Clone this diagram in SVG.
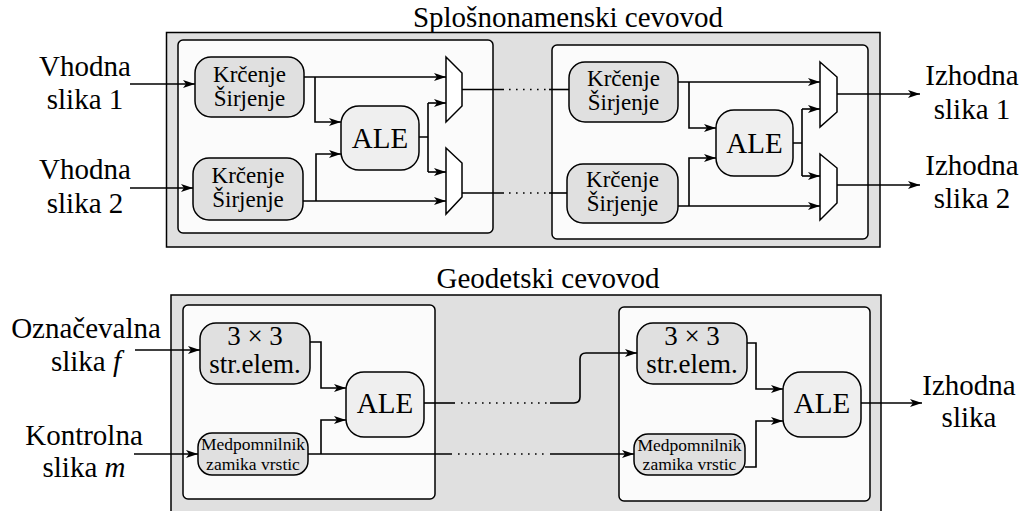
<svg xmlns="http://www.w3.org/2000/svg" width="1024" height="511" viewBox="0 0 1024 511" font-family="'Liberation Serif', serif">
<defs>
<marker id="arr" markerUnits="userSpaceOnUse" viewBox="0 0 12 8" refX="12" refY="4" markerWidth="12" markerHeight="8" orient="auto">
<path d="M0,0 L12,4 L0,8 L3,4 Z" fill="#000"/>
</marker>
</defs>
<style>
text{font-family:'Liberation Serif',serif;fill:#000;text-anchor:middle}
.lbl{font-size:29px}
.ttl{font-size:29px}
.kr{font-size:23px}
.ale{font-size:29px}
.str{font-size:27px}
.med{font-size:17.5px}
.outer{fill:#e0e0e0;stroke:#000;stroke-width:1.5}
.inner{fill:#fbfbfb;stroke:#000;stroke-width:1.5}
.blk{fill:#e0e0e0;stroke:#000;stroke-width:1.5}
.alebox{fill:#efefef;stroke:#000;stroke-width:1.5}
.mux{fill:#fff;stroke:#000;stroke-width:1.5}
.c{fill:none;stroke:#000;stroke-width:1.6}
.a{fill:none;stroke:#000;stroke-width:1.6;marker-end:url(#arr)}
.d{fill:none;stroke:#000;stroke-width:1.6;stroke-dasharray:1.6 5.4}
</style>

<g id="frames">
<rect class="outer" x="166.5" y="32.5" width="713.5" height="214.5"/>
<rect class="inner" x="178" y="40" width="315" height="193" rx="5"/>
<rect class="inner" x="552" y="45" width="316" height="194" rx="5"/>
<rect class="outer" x="171" y="295" width="710" height="222"/>
<rect class="inner" x="183" y="305" width="252" height="194" rx="5"/>
<rect class="inner" x="619" y="307" width="251" height="194" rx="5"/>
</g>

<g id="titles">
<text class="ttl" x="568" y="27">Splošnonamenski cevovod</text>
<text class="ttl" x="548" y="288">Geodetski cevovod</text>
</g>

<g id="connectors">
<path class="a" d="M130 84 H195"/>
<path class="a" d="M130 188 H193"/>
<path class="a" d="M304 77 H446"/>
<path class="a" d="M315 77 V122 H341"/>
<path class="a" d="M303 201 H446"/>
<path class="a" d="M316 201 V154 H341"/>
<path class="c" d="M419 137 H428 M428 103 V172"/>
<path class="a" d="M428 103 H446"/>
<path class="a" d="M428 172 H446"/>
<path class="c" d="M462 89.5 H504"/>
<path class="d" d="M509 89.5 H546"/>
<path class="c" d="M549 89.5 H569"/>
<path class="c" d="M462 193 H504"/>
<path class="d" d="M509 193 H546"/>
<path class="c" d="M549 193 H567"/>
<path class="a" d="M678 82 H820"/>
<path class="a" d="M689 82 V128 H716"/>
<path class="a" d="M678 206 H820"/>
<path class="a" d="M689 206 V158 H716"/>
<path class="c" d="M793 143 H802 M802 109 V176"/>
<path class="a" d="M802 109 H820"/>
<path class="a" d="M802 176 H820"/>
<path class="a" d="M837 94 H920"/>
<path class="a" d="M837 185 H920"/>

<path class="a" d="M135 350 H200"/>
<path class="a" d="M134 454 H198"/>
<path class="a" d="M310 342 H321 V388 H346"/>
<path class="c" d="M308 454 H452"/>
<path class="a" d="M321 454 V420 H346"/>
<path class="d" d="M458 454 H548"/>
<path class="a" d="M550 454 H634"/>
<path class="c" d="M424 403 H455"/>
<path class="d" d="M461 403 H548"/>
<path class="a" d="M550 403 H574 Q580 403 580 397 V359 Q580 353 586 353 H637"/>
<path class="a" d="M747 343 H756 V389 H783"/>
<path class="a" d="M745 467 H756 V421 H783"/>
<path class="a" d="M861 403 H922"/>
</g>

<g id="in1"><text class="lbl" x="85" y="76">Vhodna</text><text class="lbl" x="85" y="109">slika 1</text></g>
<g id="in2"><text class="lbl" x="85" y="179">Vhodna</text><text class="lbl" x="85" y="213">slika 2</text></g>
<g id="out1"><text class="lbl" x="972" y="85">Izhodna</text><text class="lbl" x="972" y="119">slika 1</text></g>
<g id="out2"><text class="lbl" x="972" y="175">Izhodna</text><text class="lbl" x="972" y="208">slika 2</text></g>

<g id="k1a"><rect class="blk" x="195" y="57" width="109" height="60" rx="16"/><text class="kr" x="249.5" y="82">Krčenje</text><text class="kr" x="249.5" y="106">Širjenje</text></g>
<g id="k1b"><rect class="blk" x="193" y="158" width="110" height="62" rx="16"/><text class="kr" x="248" y="183">Krčenje</text><text class="kr" x="248" y="207">Širjenje</text></g>
<g id="ale1"><rect class="alebox" x="341" y="106" width="78" height="64" rx="18"/><text class="ale" x="380" y="148">ALE</text></g>
<g id="mux1a"><polygon class="mux" points="446,57 462,73 462,106 446,122"/></g>
<g id="mux1b"><polygon class="mux" points="446,148 462,163 462,197 446,214"/></g>

<g id="k2a"><rect class="blk" x="569" y="62" width="109" height="60" rx="16"/><text class="kr" x="623.5" y="86">Krčenje</text><text class="kr" x="623.5" y="110">Širjenje</text></g>
<g id="k2b"><rect class="blk" x="567" y="164" width="111" height="59" rx="16"/><text class="kr" x="622.5" y="187">Krčenje</text><text class="kr" x="622.5" y="211">Širjenje</text></g>
<g id="ale2"><rect class="alebox" x="716" y="110" width="77" height="66" rx="18"/><text class="ale" x="754.5" y="153">ALE</text></g>
<g id="mux2a"><polygon class="mux" points="820,62 837,77 837,112 820,127"/></g>
<g id="mux2b"><polygon class="mux" points="820,154 837,168 837,203 820,220"/></g>

<g id="inf"><text class="lbl" x="86" y="338">Označevalna</text><text class="lbl" x="86" y="371">slika <tspan font-style="italic">f</tspan></text></g>
<g id="inm"><text class="lbl" x="84" y="445">Kontrolna</text><text class="lbl" x="84" y="477">slika <tspan font-style="italic">m</tspan></text></g>
<g id="out3"><text class="lbl" x="969" y="395">Izhodna</text><text class="lbl" x="969" y="427">slika</text></g>

<g id="se1"><rect class="blk" x="200" y="323" width="110" height="61" rx="16"/><text class="str" x="255" y="345">3 × 3</text><text class="str" x="255" y="373">str.elem.</text></g>
<g id="mp1"><rect class="blk" x="198" y="433" width="110" height="42" rx="14"/><text class="med" x="253" y="450">Medpomnilnik</text><text class="med" x="253" y="470">zamika vrstic</text></g>
<g id="ale3"><rect class="alebox" x="346" y="372" width="78" height="65" rx="18"/><text class="ale" x="385" y="413">ALE</text></g>

<g id="se2"><rect class="blk" x="637" y="323" width="110" height="61" rx="16"/><text class="str" x="692" y="345">3 × 3</text><text class="str" x="692" y="373">str.elem.</text></g>
<g id="mp2"><rect class="blk" x="634" y="434" width="111" height="41" rx="14"/><text class="med" x="689.5" y="451">Medpomnilnik</text><text class="med" x="689.5" y="470">zamika vrstic</text></g>
<g id="ale4"><rect class="alebox" x="783" y="372" width="78" height="65" rx="18"/><text class="ale" x="822" y="413">ALE</text></g>
</svg>
